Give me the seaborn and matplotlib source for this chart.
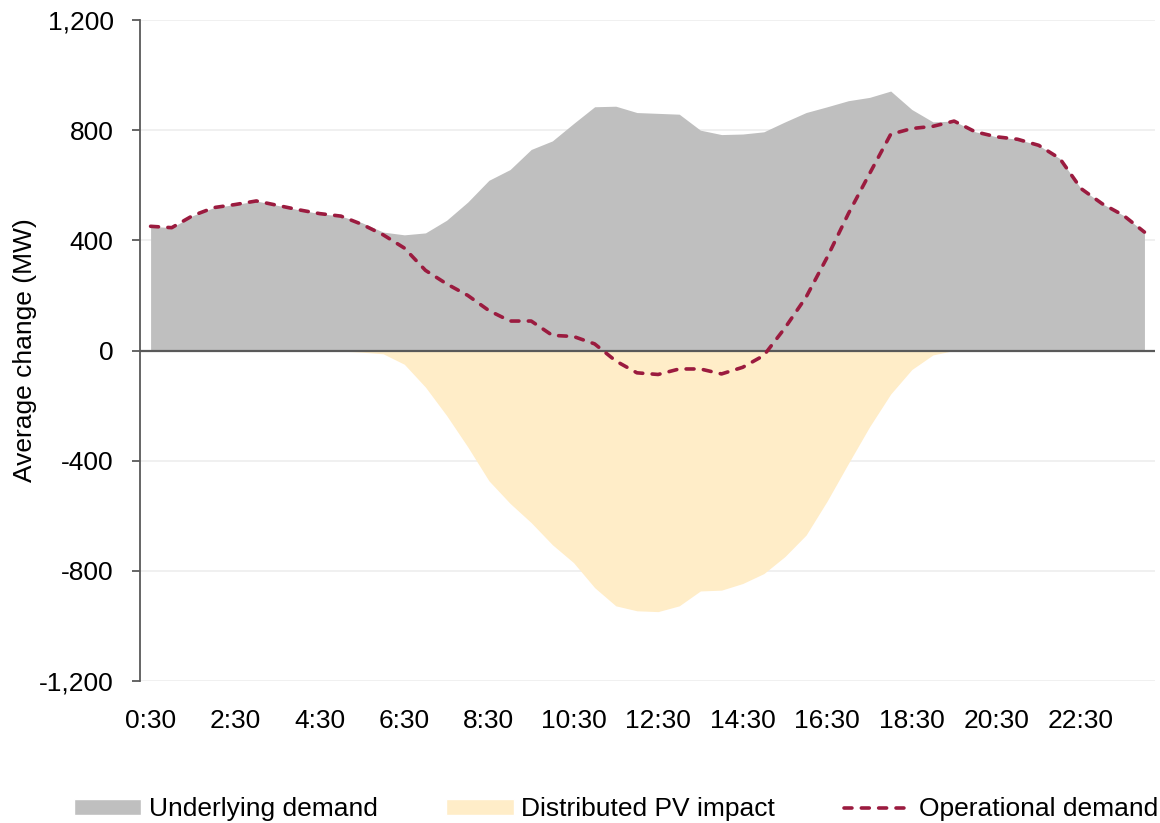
import matplotlib
matplotlib.use("Agg")
import matplotlib.pyplot as plt
import seaborn as sns
import pandas as pd
from matplotlib.patches import Patch
from matplotlib.lines import Line2D

# half-hourly values, 0:30 .. 24:00 (MW)
underlying = [451, 446, 490, 519, 530, 543, 527, 511, 497, 488,
              464, 430, 420, 427, 473, 539, 618, 657, 730, 761,
              824, 885, 887, 864, 861, 858, 800, 784, 786, 794,
              830, 864, 885, 907, 919, 942, 875, 830, 833, 794,
              776, 767, 745, 697, 588, 533, 491, 430]
pv_impact = [0, 0, 0, 0, 0, 0, 0, 0, 0, -2,
             -6, -12, -50, -133, -236, -350, -473, -555, -625, -705,
             -770, -861, -927, -945, -948, -927, -873, -870, -846, -810,
             -748, -670, -546, -410, -277, -158, -69, -16, 0, 0,
             0, 0, 0, 0, 0, 0, 0, 0]
operational = [451, 446, 490, 519, 530, 543, 527, 511, 497, 488,
               458, 420, 372, 291, 242, 200, 145, 107, 107, 55,
               51, 24, -38, -81, -87, -67, -67, -85, -61, -18,
               82, 194, 339, 497, 642, 785, 806, 814, 833, 794,
               776, 767, 745, 697, 588, 533, 491, 430]
tick_labels = ["0:30", "2:30", "4:30", "6:30", "8:30", "10:30",
               "12:30", "14:30", "16:30", "18:30", "20:30", "22:30"]
y_ticks = [-1200, -800, -400, 0, 400, 800, 1200]
y_labels = ["-1,200", "-800", "-400", "0", "400", "800", "1,200"]

df = pd.DataFrame({"slot": range(len(underlying)),
                   "underlying": underlying,
                   "pv": pv_impact,
                   "operational": operational})

sns.set_theme(style="white")
plt.rcParams["font.family"] = ["Liberation Sans", "DejaVu Sans"]
plt.rcParams["text.color"] = "black"
plt.rcParams["axes.labelcolor"] = "black"
plt.rcParams["xtick.color"] = "black"
plt.rcParams["ytick.color"] = "black"

grey = "#bfbfbf"
yellow = "#ffedc8"
red = "#9b1b3f"
dash = [2.2, 2.6]

fig = plt.figure(figsize=(11.6, 8.23), dpi=100)
ax = fig.add_axes([0.1207, 0.1725, 0.8750, 0.8032])

for v in y_ticks:
    ax.axhline(v, color="#efefef", lw=1.3, zorder=0)

ax.fill_between(df["slot"], 0, df["underlying"], color=grey, lw=0, zorder=1)
ax.fill_between(df["slot"], 0, df["pv"], color=yellow, lw=0, zorder=1)
ax.axhline(0, color="#595959", lw=1.6, zorder=2)

sns.lineplot(data=df, x="slot", y="operational", ax=ax, color=red, lw=2.6,
             zorder=3, legend=False)
ax.lines[-1].set_dashes(dash)
ax.lines[-1].set_dash_capstyle("round")

ax.set_xlim(-0.5, len(underlying) - 0.5)
ax.set_ylim(-1200, 1200)
ax.set_xticks(range(0, 48, 4))
ax.set_xticklabels(tick_labels)
ax.set_yticks(y_ticks)
ax.set_yticklabels(y_labels)
ax.set_xlabel("")
ax.set_ylabel("Average change (MW)", fontsize=19, labelpad=1)
ax.tick_params(axis="y", labelsize=19, length=6, width=1.3, color="#595959",
               labelcolor="black", pad=13, left=True)
ax.tick_params(axis="x", labelsize=19, length=0, pad=20, labelcolor="black")

for s in ["top", "right", "bottom"]:
    ax.spines[s].set_visible(False)
ax.spines["left"].set_color("#595959")
ax.spines["left"].set_linewidth(1.3)

handles = [Patch(facecolor=grey, label="Underlying demand"),
           Patch(facecolor=yellow, label="Distributed PV impact"),
           Line2D([0], [0], color=red, lw=2.6, dashes=dash,
                  dash_capstyle="round", label="Operational demand")]
fig.legend(handles=handles, loc="lower center", ncol=3, frameon=False,
           fontsize=19, handlelength=2.55, handleheight=0.55,
           handletextpad=0.3, columnspacing=2.6,
           bbox_to_anchor=(0.531, -0.027))

fig.savefig("out.png", dpi=100)
